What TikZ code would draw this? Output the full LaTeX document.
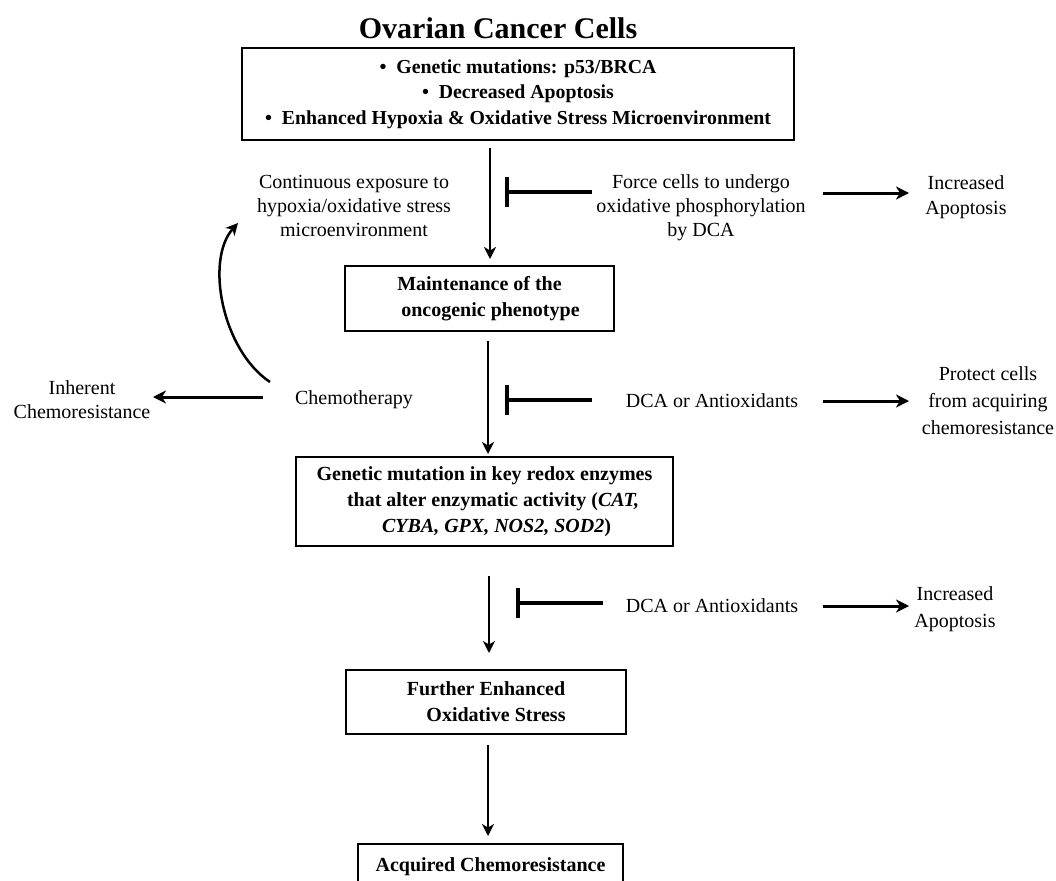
\documentclass[tikz,border=0pt]{standalone}
\usepackage{fontspec}
\setmainfont{Liberation Serif}
\usetikzlibrary{arrows.meta}
\begin{document}
\begin{tikzpicture}[x=1pt,y=-1pt,
  box/.style={draw=black, line width=2.8pt, align=center, inner sep=0pt,
    font=\bfseries\fontsize{20}{26}\selectfont},
  lbl/.style={align=center, inner sep=0pt, font=\fontsize{20}{24}\selectfont},
  flow/.style={line width=2.2pt, -{Stealth[length=12pt,width=12pt,inset=3.5pt]}},
  side/.style={line width=3pt, -{Stealth[length=13pt,width=13pt,inset=4pt]}},
  block/.style={line width=3.5pt, -{Bar[width=30pt]}},
]
\useasboundingbox (0,0) rectangle (1056,880);
\clip (0,0) rectangle (1056,880);

% title and main chain of boxes
\node[inner sep=0pt, font=\bfseries\fontsize{30}{35}\selectfont] (title) at (498,28) {Ovarian Cancer Cells};
\node[box, minimum width=552pt, minimum height=92pt,
      font=\bfseries\fontsize{19.8}{25.5}\selectfont] (top) at (518,94)
  {\textbullet\ \ Genetic mutations: p53/BRCA\\
   \textbullet\ \ Decreased Apoptosis\\
   \textbullet\ \ Enhanced Hypoxia \& Oxidative Stress Microenvironment};
\node[box, minimum width=269pt, minimum height=65pt] (maint) at (479.5,298.5)
  {Maintenance of the\\\hspace*{22pt}oncogenic phenotype};
\node[box, minimum width=377pt, minimum height=89pt] (redox) at (484.5,501.5)
  {Genetic mutation in key redox enzymes\\
   \hspace*{17pt}that alter enzymatic activity (\textit{CAT,}\\
   \hspace*{24pt}\textit{CYBA, GPX, NOS2, SOD2})};
\node[box, minimum width=280pt, minimum height=64pt] (oxid) at (486,702)
  {Further Enhanced\\\hspace*{20pt}Oxidative Stress};
\node[box, minimum width=265pt, minimum height=46pt] (acq) at (490.5,867)
  {Acquired Chemoresistance};

% side labels
\node[lbl] (expo) at (354,206) {Continuous exposure to\\hypoxia/oxidative stress\\microenvironment};
\node[lbl] (force) at (701,208) {Force cells to undergo\\oxidative phosphorylation\\by DCA};
\node[lbl, font=\fontsize{20}{25}\selectfont] (apo1) at (966,197) {Increased\\Apoptosis};
\node[lbl] (chemo) at (354,400) {Chemotherapy};
\node[lbl] (inher) at (82,400) {Inherent\\Chemoresistance};
\node[lbl] (dca1) at (712,401) {DCA or Antioxidants};
\node[lbl, font=\fontsize{20}{27}\selectfont] (protect) at (988,401) {Protect cells\\from acquiring\\chemoresistance};
\node[lbl] (dca2) at (712,606) {DCA or Antioxidants};
\node[lbl, font=\fontsize{20}{27}\selectfont] (apo2) at (955,609) {Increased\\Apoptosis};

% connector end points
\coordinate (a1s) at (490,148);  \coordinate (a1e) at (490,259);
\coordinate (a2s) at (488,341);  \coordinate (a2e) at (488,454);
\coordinate (a3s) at (489,576);  \coordinate (a3e) at (489,653);
\coordinate (a4s) at (488,745);  \coordinate (a4e) at (488,836);
\coordinate (i1s) at (592,192);  \coordinate (i1e) at (505,192);
\coordinate (i2s) at (592,400);  \coordinate (i2e) at (505,400);
\coordinate (i3s) at (603,603);  \coordinate (i3e) at (516,603);
\coordinate (s1s) at (823,193);  \coordinate (s1e) at (909,193);
\coordinate (s2s) at (823,401);  \coordinate (s2e) at (909,401);
\coordinate (s3s) at (823,606);  \coordinate (s3e) at (909,606);
\coordinate (c0s) at (263,397);  \coordinate (c0e) at (153,397);
\coordinate (cls) at (270,382);  \coordinate (cle) at (238,223);

% main flow
\draw[flow] (a1s) -- (a1e);
\draw[flow] (a2s) -- (a2e);
\draw[flow] (a3s) -- (a3e);
\draw[flow] (a4s) -- (a4e);

% inhibition bars
\draw[block] (i1s) -- (i1e);
\draw[block] (i2s) -- (i2e);
\draw[block] (i3s) -- (i3e);

% side effects
\draw[side] (s1s) -- (s1e);
\draw[side] (s2s) -- (s2e);
\draw[side] (s3s) -- (s3e);
\draw[side] (c0s) -- (c0e);

% feedback loop from chemotherapy
\draw[flow, line width=2.5pt] (cls) .. controls (222,350) and (205,260) .. (cle);
\end{tikzpicture}
\end{document}
